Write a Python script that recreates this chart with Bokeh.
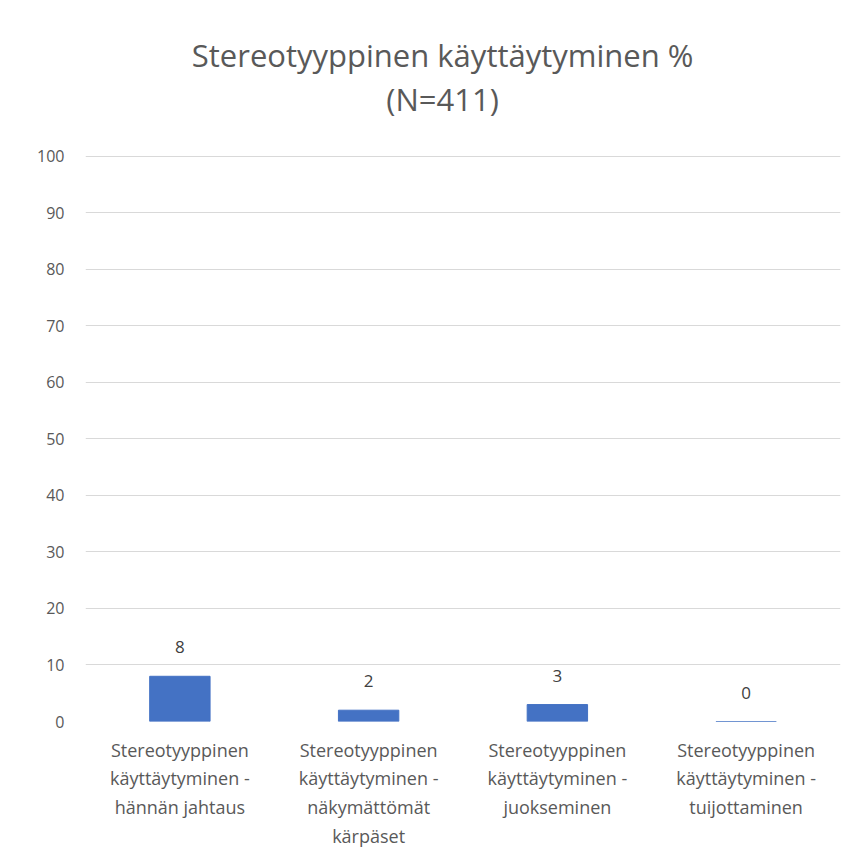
from bokeh.plotting import figure
from bokeh.models import ColumnDataSource, LabelSet, FactorRange, Range1d, FixedTicker
from bokeh.core.properties import value
from bokeh.embed import file_html
from bokeh.resources import INLINE

categories = [
    "Stereotyyppinen\nkäyttäytyminen -\nhännän jahtaus",
    "Stereotyyppinen\nkäyttäytyminen -\nnäkymättömät\nkärpäset",
    "Stereotyyppinen\nkäyttäytyminen -\njuokseminen",
    "Stereotyyppinen\nkäyttäytyminen -\ntuijottaminen",
]
values = [8, 2, 3, 0]
y_ticks = [0, 10, 20, 30, 40, 50, 60, 70, 80, 90, 100]
title_lines = ["Stereotyyppinen käyttäytyminen %", "(N=411)"]

FONT = "Open Sans"
src = ColumnDataSource(dict(x=categories, top=values, label=[str(v) for v in values]))

# frame spans from the canvas top down to y=0; space above 100 holds the title
p = figure(width=857, height=857, x_range=FactorRange(factors=categories),
           y_range=Range1d(0, 127.6), output_backend="svg", toolbar_location=None,
           min_border_left=85, min_border_right=17, min_border_top=0, min_border_bottom=136)
p.title = None

tsrc = ColumnDataSource(dict(x=[categories[1], categories[1]], y=[118.0, 110.1], text=title_lines))
p.text(x="x", y="y", text="text", source=tsrc, x_offset=74, text_align="center",
       text_baseline="middle", text_font=value(FONT), text_font_size=value("31px"),
       text_color="#595959")

p.vbar(x="x", top="top", bottom=0, width=0.32, source=src, color="#4472C4")
p.add_layout(LabelSet(x="x", y="top", text="label", source=src, text_align="center",
                      text_baseline="middle", y_offset=29, text_font=value(FONT),
                      text_font_size=value("17px"), text_color=value("#404040")))

p.outline_line_color = None
p.xgrid.grid_line_color = None
p.ygrid.grid_line_color = "#d9d9d9"
p.ygrid.ticker = FixedTicker(ticks=y_ticks)
p.yaxis.ticker = FixedTicker(ticks=y_ticks)
for ax in (p.xaxis, p.yaxis):
    ax.axis_line_color = None
    ax.major_tick_line_color = None
    ax.minor_tick_line_color = None
    ax.major_tick_out = 0
    ax.major_tick_in = 0
    ax.major_label_text_font = FONT
    ax.major_label_text_color = "#595959"
p.yaxis.major_label_text_font_size = "16px"
p.xaxis.major_label_text_font_size = "18px"
p.yaxis.major_label_standoff = 21
p.xaxis.major_label_standoff = 16

open("out.html", "w").write(file_html(p, INLINE))
